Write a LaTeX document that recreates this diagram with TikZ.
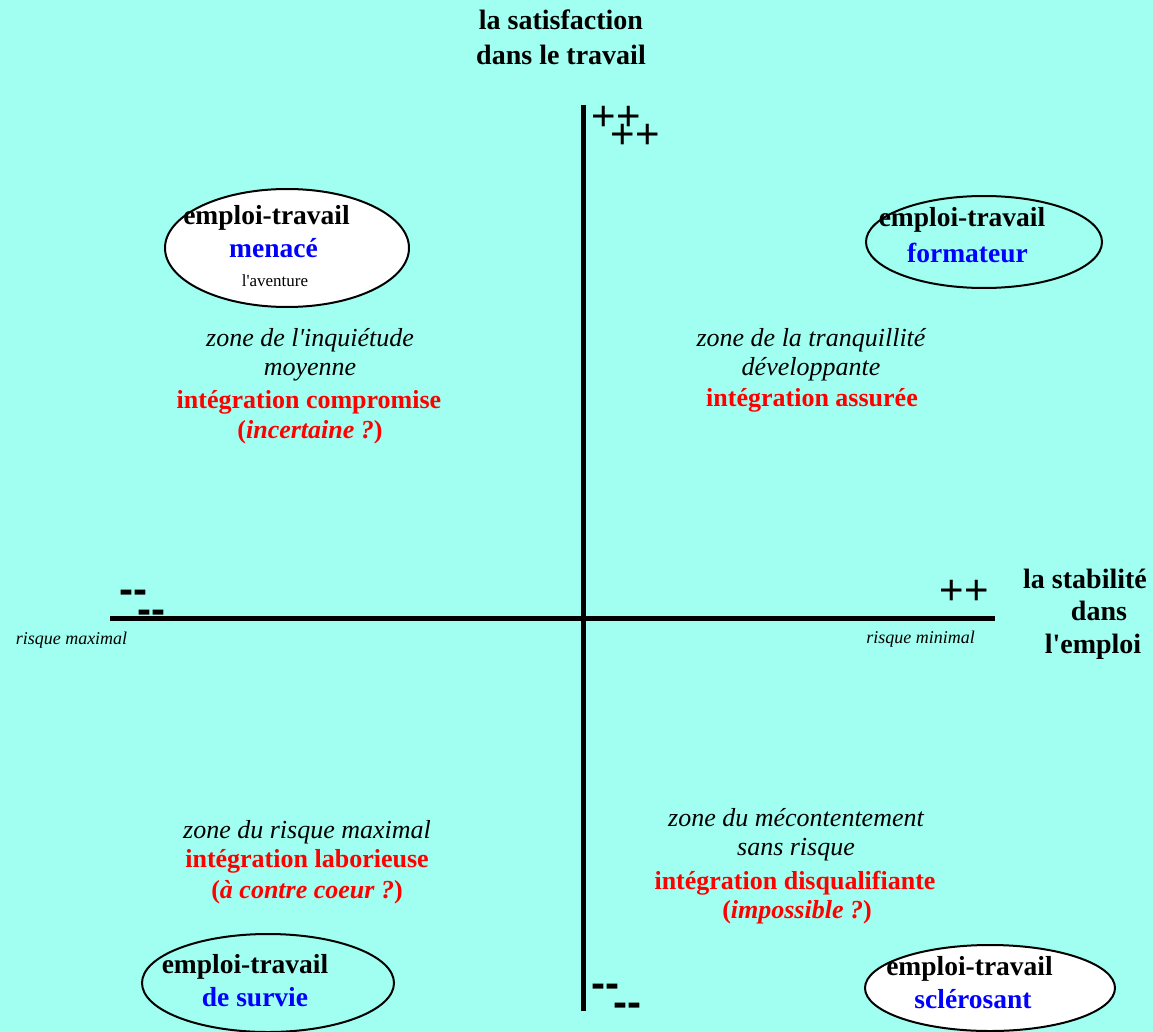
\documentclass[tikz,border=0pt]{standalone}
\usepackage{fontspec}
\setmainfont{Liberation Serif}[Ligatures=TeXOff]
\newfontfamily\signfont{Liberation Sans}[Ligatures=TeXOff]
\definecolor{bgcyan}{RGB}{160,255,240}
\definecolor{zred}{RGB}{255,0,0}
\definecolor{zblue}{RGB}{0,0,255}

\tikzset{
  axisline/.style={line width=5pt},
  ring/.style={draw=black, line width=2pt},
  txt/.style={anchor=base, inner sep=0pt, outer sep=0pt},
  axistitle/.style={txt, font=\fontsize{28}{35}\selectfont\bfseries},
  jobname/.style={txt, font=\fontsize{27.5}{34}\selectfont\bfseries},
  jobkind/.style={jobname, text=zblue},
  zone/.style={txt, font=\fontsize{26}{32}\selectfont\itshape},
  integ/.style={txt, font=\fontsize{26}{32}\selectfont\bfseries, text=zred},
  query/.style={txt, font=\fontsize{26}{32}\selectfont\bfseries, text=zred},
  risk/.style={txt, font=\fontsize{18}{22}\selectfont\itshape},
  plusmark/.style={txt, font=\signfont\fontsize{42}{42}\selectfont},
  minusmark/.style={txt, font=\signfont\bfseries\fontsize{42}{42}\selectfont},
}

\begin{document}
\begin{tikzpicture}[x=1pt, y=-1pt]
  % canvas
  \fill[bgcyan] (0,0) rectangle (1153,1032);
  \useasboundingbox (0,0) rectangle (1153,1032);

  % axes
  \coordinate (vtop) at (583.5,105);
  \coordinate (vbot) at (583.5,1011);
  \coordinate (hleft) at (110,618.5);
  \coordinate (hright) at (995,618.5);
  \draw[axisline] (vtop) -- (vbot);
  \draw[axisline] (hleft) -- (hright);

  % axis titles
  \node[axistitle] (ytitleA) at (561,30) {la satisfaction};
  \node[axistitle] (ytitleB) at (561,65) {dans le travail};
  \node[axistitle] (xtitleA) at (1085,588) {la stabilité};
  \node[axistitle] (xtitleB) at (1099,620) {dans};
  \node[axistitle] (xtitleC) at (1093,653) {l'emploi};

  % axis end marks
  \node[plusmark] (ptopA) at (616,131) {++};
  \node[plusmark] (ptopB) at (635,149) {++};
  \node[plusmark] (pright) at (964.5,604) {++};
  \node[minusmark] (mleftA) at (133,603.5) {--};
  \node[minusmark] (mleftB) at (151,623.5) {--};
  \node[minusmark] (mbotA) at (605.5,997.5) {--};
  \node[minusmark] (mbotB) at (627,1016.5) {--};

  \node[risk] (riskmax) at (71.5,644) {risque maximal};
  \node[risk] (riskmin) at (920.5,643) {risque minimal};

  % job-type ellipses
  \coordinate (cTL) at (287,248);
  \coordinate (cTR) at (984,242);
  \coordinate (cBL) at (268,983);
  \coordinate (cBR) at (990,988);
  \draw[ring, fill=white] (cTL) ellipse [x radius=122pt, y radius=59pt];
  \draw[ring] (cTR) ellipse [x radius=118pt, y radius=46pt];
  \draw[ring] (cBL) ellipse [x radius=126pt, y radius=49pt];
  \draw[ring, fill=white] (cBR) ellipse [x radius=125pt, y radius=43pt];

  \node[jobname] (tlA) at (266.5,225) {emploi-travail};
  \node[jobkind] (tlB) at (273.5,258) {menacé};
  \node[txt, font=\fontsize{17}{20}\selectfont] (tlC) at (275,286) {l'aventure};

  \node[jobname] (trA) at (962,227) {emploi-travail};
  \node[jobkind] (trB) at (967.5,262) {formateur};

  \node[jobname] (blA) at (245,973) {emploi-travail};
  \node[jobkind] (blB) at (255,1006) {de survie};

  \node[jobname] (brA) at (969.5,975) {emploi-travail};
  \node[jobkind] (brB) at (973,1008) {sclérosant};

  % quadrant descriptions
  \node[zone] (qtlA) at (310,346) {zone de l'inquiétude};
  \node[zone] (qtlB) at (310,375) {moyenne};
  \node[integ] (qtlC) at (309,408) {intégration compromise};
  \node[query] (qtlD) at (310,438) {(\textit{incertaine ?})};

  \node[zone] (qtrA) at (811,346) {zone de la tranquillité};
  \node[zone] (qtrB) at (811,375) {développante};
  \node[integ] (qtrC) at (812,406) {intégration assurée};

  \node[zone] (qblA) at (307,838) {zone du risque maximal};
  \node[integ] (qblB) at (307,867) {intégration laborieuse};
  \node[query] (qblC) at (307,898) {(\textit{à contre coeur ?})};

  \node[zone] (qbrA) at (796,826) {zone du mécontentement};
  \node[zone] (qbrB) at (796,855) {sans risque};
  \node[integ] (qbrC) at (795,889) {intégration disqualifiante};
  \node[query] (qbrD) at (797,918) {(\textit{impossible ?})};
\end{tikzpicture}
\end{document}
